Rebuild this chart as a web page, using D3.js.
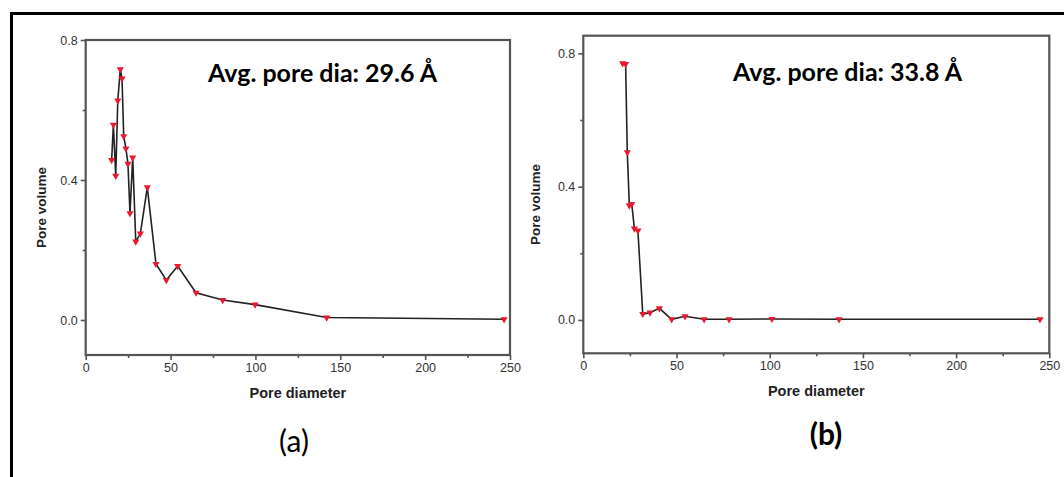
<!DOCTYPE html>
<html>
<head>
<meta charset="utf-8">
<script src="https://cdn.jsdelivr.net/npm/d3@7"></script>
<style>
  body { margin: 0; background: #fff; }
  svg { display: block; }
</style>
</head>
<body>
<div id="chart"></div>
<script>
// Panel (a) readings
const diamA = [15.3, 16.3, 17.7, 18.9, 20.4, 21.4, 22.4, 23.7, 24.9, 26.1, 27.7, 29.5, 32.2, 36.3, 41.4, 47.5, 54.2, 65.0, 80.7, 99.8, 142.0, 246.5];
const volA = [0.457, 0.558, 0.412, 0.627, 0.716, 0.690, 0.525, 0.490, 0.446, 0.305, 0.464, 0.224, 0.247, 0.379, 0.160, 0.114, 0.154, 0.078, 0.057, 0.044, 0.007, 0.002];

// Panel (b) readings
const diamB = [21.1, 22.7, 23.6, 24.7, 26.0, 27.4, 29.3, 31.9, 35.8, 40.8, 47.4, 54.6, 64.8, 78.2, 101.2, 137.2, 245.0];
const volB = [0.770, 0.768, 0.503, 0.343, 0.348, 0.274, 0.268, 0.018, 0.022, 0.035, 0.002, 0.011, 0.002, 0.002, 0.003, 0.002, 0.002];

const xTicks = [0, 50, 100, 150, 200, 250];
const xMinor = [25, 75, 125, 175, 225];
const yTicks = [0.0, 0.4, 0.8];
const yMinor = [0.2, 0.6];

const w = 1064, h = 477;

const svg = d3.select('#chart').append('svg')
  .attr('width', w)
  .attr('height', h);

// outer frame (cropped on right/bottom)
svg.append('path')
  .attr('d', `M11.5,${h} V13.5 H${w}`)
  .attr('fill', 'none')
  .attr('stroke', '#000')
  .attr('stroke-width', 3);

function panel(opts) {
  const { left, right, top, bottom, yMax, diam, vol, note, noteX, noteY, tag, tagX, tagY, tagBold, ylabX, xlabY } = opts;
  const data = diam.map((d, i) => ({ d, v: vol[i] }));

  const x = d3.scaleLinear().domain([0, 250]).range([left, right]);
  const y = d3.scaleLinear().domain([-0.1, yMax]).range([bottom, top]);

  const g = svg.append('g');

  // box
  g.append('rect')
    .attr('x', left).attr('y', top)
    .attr('width', right - left).attr('height', bottom - top)
    .attr('fill', 'none')
    .attr('stroke', '#555')
    .attr('stroke-width', 2.2);

  // axes
  g.append('g')
    .attr('transform', `translate(0,${bottom})`)
    .call(d3.axisBottom(x).tickValues(xTicks).tickSize(5).tickPadding(3).tickFormat(d3.format('d')));
  g.append('g')
    .attr('transform', `translate(0,${bottom})`)
    .call(d3.axisBottom(x).tickValues(xMinor).tickSize(3).tickFormat(''));
  g.append('g')
    .attr('transform', `translate(${left},0)`)
    .call(d3.axisLeft(y).tickValues(yTicks).tickSize(5).tickPadding(3).tickFormat(d3.format('.1f')));
  g.append('g')
    .attr('transform', `translate(${left},0)`)
    .call(d3.axisLeft(y).tickValues(yMinor).tickSize(3).tickFormat(''));

  g.selectAll('.domain').remove();
  g.selectAll('.tick line').attr('stroke', '#555').attr('stroke-width', 1.6);
  g.selectAll('.tick text')
    .attr('fill', '#333')
    .style('font-family', 'Liberation Sans, Arial, sans-serif')
    .style('font-size', '12.5px');

  // axis titles
  g.append('text')
    .attr('x', (left + right) / 2)
    .attr('y', xlabY)
    .attr('text-anchor', 'middle')
    .style('font-family', 'Liberation Sans, Arial, sans-serif')
    .style('font-size', '14.5px')
    .style('font-weight', 'bold')
    .attr('fill', '#222')
    .text('Pore diameter');

  g.append('text')
    .attr('transform', `translate(${ylabX},${(top + bottom) / 2 + 10}) rotate(-90)`)
    .attr('text-anchor', 'middle')
    .style('font-family', 'Liberation Sans, Arial, sans-serif')
    .style('font-size', '13.5px')
    .style('font-weight', 'bold')
    .attr('fill', '#222')
    .text('Pore volume');

  // line
  const line = d3.line().x(p => x(p.d)).y(p => y(p.v));
  g.append('path')
    .datum(data)
    .attr('d', line)
    .attr('fill', 'none')
    .attr('stroke', '#222')
    .attr('stroke-width', 1.6);

  // markers (down triangles)
  const tri = d3.symbol(d3.symbolTriangle, 22);
  g.selectAll('.pt')
    .data(data)
    .join('path')
    .attr('class', 'pt')
    .attr('d', tri)
    .attr('transform', p => `translate(${x(p.d)},${y(p.v)}) rotate(180)`)
    .attr('fill', '#e8182e');

  // annotation
  g.append('text')
    .attr('x', noteX)
    .attr('y', noteY)
    .style('font-family', 'Lato, sans-serif')
    .style('font-size', '25px')
    .style('font-weight', 'bold')
    .attr('fill', '#000')
    .text(note);

  g.append('text')
    .attr('x', tagX)
    .attr('y', tagY)
    .attr('text-anchor', 'middle')
    .style('font-family', 'Lato, sans-serif')
    .style('font-size', '30px')
    .style('font-weight', tagBold ? 'bold' : 'normal')
    .attr('fill', '#000')
    .text(tag);
}

panel({
  left: 85.7, right: 510, top: 40, bottom: 355, yMax: 0.8,
  diam: diamA, vol: volA,
  note: 'Avg. pore dia: 29.6 Å', noteX: 208, noteY: 82,
  tag: '(a)', tagX: 294, tagY: 452, tagBold: false,
  ylabX: 46, xlabY: 398
});

panel({
  left: 583.3, right: 1049.3, top: 35.7, bottom: 353.3, yMax: 0.853,
  diam: diamB, vol: volB,
  note: 'Avg. pore dia: 33.8 Å', noteX: 733, noteY: 81,
  tag: '(b)', tagX: 826, tagY: 445, tagBold: true,
  ylabX: 540, xlabY: 396
});
</script>
</body>
</html>
